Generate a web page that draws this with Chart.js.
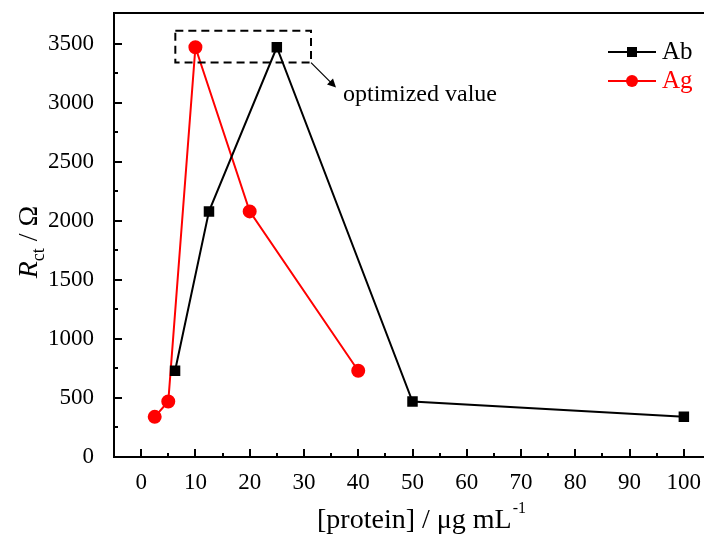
<!DOCTYPE html>
<html>
<head>
<meta charset="utf-8">
<script src="https://cdn.jsdelivr.net/npm/chart.js@4.4.1/dist/chart.umd.min.js"></script>
<style>
  html, body { margin: 0; padding: 0; background: #fff; overflow: hidden; }
  #wrap { width: 720px; height: 537px; }
</style>
</head>
<body>
<div id="wrap"><canvas id="rctChart" width="720" height="537"></canvas></div>
<script>
// Data
const abConc = [6.25, 12.5, 25, 50, 100];
const abRct = [730, 2080, 3470, 470, 340];
const agConc = [2.5, 5, 10, 20, 40];
const agRct = [340, 470, 3470, 2080, 730];

const xTicks = [0, 10, 20, 30, 40, 50, 60, 70, 80, 90, 100];
const yTicks = [0, 500, 1000, 1500, 2000, 2500, 3000, 3500];
const xMinor = [5, 15, 25, 35, 45, 55, 65, 75, 85, 95];
const yMinor = [250, 750, 1250, 1750, 2250, 2750, 3250];

// dashed box round the optimized values, in data units
const boxX = [6.3, 31.3];
const boxY = [3340, 3610];

const FONT = '"Liberation Serif", "DejaVu Serif", serif';

const toPoints = (xs, ys) => xs.map((x, i) => ({ x: x, y: ys[i] }));

// Inward ticks, top border, titles, legend and annotation
const decorations = {
    id: 'decorations',
    afterDraw(chart) {
        const ctx = chart.ctx;
        const area = chart.chartArea;
        const xs = chart.scales.x;
        const ys = chart.scales.y;
        ctx.save();
        ctx.strokeStyle = '#000';
        ctx.lineWidth = 2;

        // top frame line
        ctx.beginPath();
        ctx.moveTo(area.left - 1, area.top);
        ctx.lineTo(area.right, area.top);
        ctx.stroke();

        // ticks pointing into the plot
        ctx.beginPath();
        xTicks.forEach(v => {
            const px = Math.round(xs.getPixelForValue(v));
            ctx.moveTo(px, area.bottom); ctx.lineTo(px, area.bottom - 8);
        });
        xMinor.forEach(v => {
            const px = Math.round(xs.getPixelForValue(v));
            ctx.moveTo(px, area.bottom); ctx.lineTo(px, area.bottom - 4);
        });
        yTicks.forEach(v => {
            const py = Math.round(ys.getPixelForValue(v));
            ctx.moveTo(area.left, py); ctx.lineTo(area.left + 8, py);
        });
        yMinor.forEach(v => {
            const py = Math.round(ys.getPixelForValue(v));
            ctx.moveTo(area.left, py); ctx.lineTo(area.left + 4, py);
        });
        ctx.stroke();

        // dashed box
        const bx0 = xs.getPixelForValue(boxX[0]);
        const bx1 = xs.getPixelForValue(boxX[1]);
        const by0 = ys.getPixelForValue(boxY[1]);
        const by1 = ys.getPixelForValue(boxY[0]);
        ctx.setLineDash([8, 5]);
        ctx.strokeRect(bx0, by0, bx1 - bx0, by1 - by0);
        ctx.setLineDash([]);

        // arrow to the label
        ctx.lineWidth = 1.2;
        const ax0 = bx1, ay0 = by1, ax1 = bx1 + 23, ay1 = by1 + 23;
        ctx.beginPath();
        ctx.moveTo(ax0, ay0); ctx.lineTo(ax1, ay1);
        ctx.stroke();
        ctx.beginPath();
        ctx.moveTo(ax1 + 2, ay1 + 2);
        ctx.lineTo(ax1 - 7, ay1 - 1);
        ctx.lineTo(ax1 - 1, ay1 - 7);
        ctx.closePath();
        ctx.fillStyle = '#000';
        ctx.fill();

        ctx.fillStyle = '#000';
        ctx.font = '24px ' + FONT;
        ctx.textAlign = 'left';
        ctx.textBaseline = 'alphabetic';
        ctx.fillText('optimized value', 343, 101);

        // legend
        const legend = [
            { label: 'Ab', color: '#000', shape: 'rect', y: 52 },
            { label: 'Ag', color: '#ff0000', shape: 'circle', y: 81 }
        ];
        legend.forEach(item => {
            ctx.strokeStyle = item.color;
            ctx.fillStyle = item.color;
            ctx.lineWidth = 2;
            ctx.beginPath();
            ctx.moveTo(608, item.y); ctx.lineTo(656, item.y);
            ctx.stroke();
            if (item.shape === 'rect') {
                ctx.fillRect(627, item.y - 5, 10, 10);
            } else {
                ctx.beginPath();
                ctx.arc(632, item.y, 6, 0, Math.PI * 2);
                ctx.fill();
            }
            ctx.font = '25px ' + FONT;
            ctx.textBaseline = 'middle';
            ctx.fillText(item.label, 662, item.y);
        });

        // x axis title with superscript
        ctx.fillStyle = '#000';
        ctx.textBaseline = 'alphabetic';
        const xMain = '[protein] / \u03bcg mL';
        ctx.font = '28px ' + FONT;
        const mainW = ctx.measureText(xMain).width;
        ctx.font = '16px ' + FONT;
        const supW = ctx.measureText('-1').width;
        const startX = 421 - (mainW + supW) / 2;
        ctx.font = '28px ' + FONT;
        ctx.fillText(xMain, startX, 528);
        ctx.font = '16px ' + FONT;
        ctx.fillText('-1', startX + mainW + 1, 513);

        // y axis title, rotated, with subscript
        ctx.translate(37, 242);
        ctx.rotate(-Math.PI / 2);
        ctx.font = 'italic 28px ' + FONT;
        const rW = ctx.measureText('R').width;
        ctx.font = '18px ' + FONT;
        const subW = ctx.measureText('ct').width;
        ctx.font = '28px ' + FONT;
        const restW = ctx.measureText(' / \u03a9').width;
        let tx = -(rW + subW + restW) / 2;
        ctx.font = 'italic 28px ' + FONT;
        ctx.fillText('R', tx, 0);
        tx += rW;
        ctx.font = '18px ' + FONT;
        ctx.fillText('ct', tx, 7);
        tx += subW;
        ctx.font = '28px ' + FONT;
        ctx.fillText(' / \u03a9', tx, 0);

        ctx.restore();
    }
};

const ctx = document.getElementById('rctChart').getContext('2d');
const rctChart = new Chart(ctx, {
    type: 'scatter',
    data: {
        datasets: [{
            label: 'Ab',
            data: toPoints(abConc, abRct),
            showLine: true,
            borderColor: '#000',
            backgroundColor: '#000',
            borderWidth: 2,
            pointStyle: 'rect',
            pointRadius: 6,
            pointHoverRadius: 6
        }, {
            label: 'Ag',
            data: toPoints(agConc, agRct),
            showLine: true,
            borderColor: '#ff0000',
            backgroundColor: '#ff0000',
            borderWidth: 2,
            pointStyle: 'circle',
            pointRadius: 6,
            pointHoverRadius: 6
        }]
    },
    options: {
        responsive: false,
        animation: false,
        layout: { padding: { top: 13, right: 9, left: 0, bottom: 0 } },
        plugins: {
            legend: { display: false },
            tooltip: { enabled: false }
        },
        scales: {
            x: {
                type: 'linear',
                min: -5,
                max: 105,
                afterBuildTicks: scale => { scale.ticks = xTicks.map(v => ({ value: v })); },
                afterFit: scale => {
                    scale.height = 80;
                    scale.paddingLeft = 0;
                    scale.paddingRight = 0;
                },
                grid: { display: false },
                border: { display: true, color: '#000', width: 2 },
                ticks: {
                    color: '#000',
                    padding: 4,
                    maxRotation: 0,
                    callback: v => String(v),
                    font: { family: FONT, size: 23 }
                }
            },
            y: {
                type: 'linear',
                min: 0,
                max: 3760,
                afterBuildTicks: scale => { scale.ticks = yTicks.map(v => ({ value: v })); },
                afterFit: scale => {
                    scale.width = 114;
                    scale.paddingTop = 0;
                    scale.paddingBottom = 0;
                },
                grid: { display: false },
                border: { display: true, color: '#000', width: 2 },
                ticks: {
                    color: '#000',
                    padding: 12,
                    callback: v => String(v),
                    font: { family: FONT, size: 23 }
                }
            }
        }
    },
    plugins: [decorations]
});
</script>
</body>
</html>
